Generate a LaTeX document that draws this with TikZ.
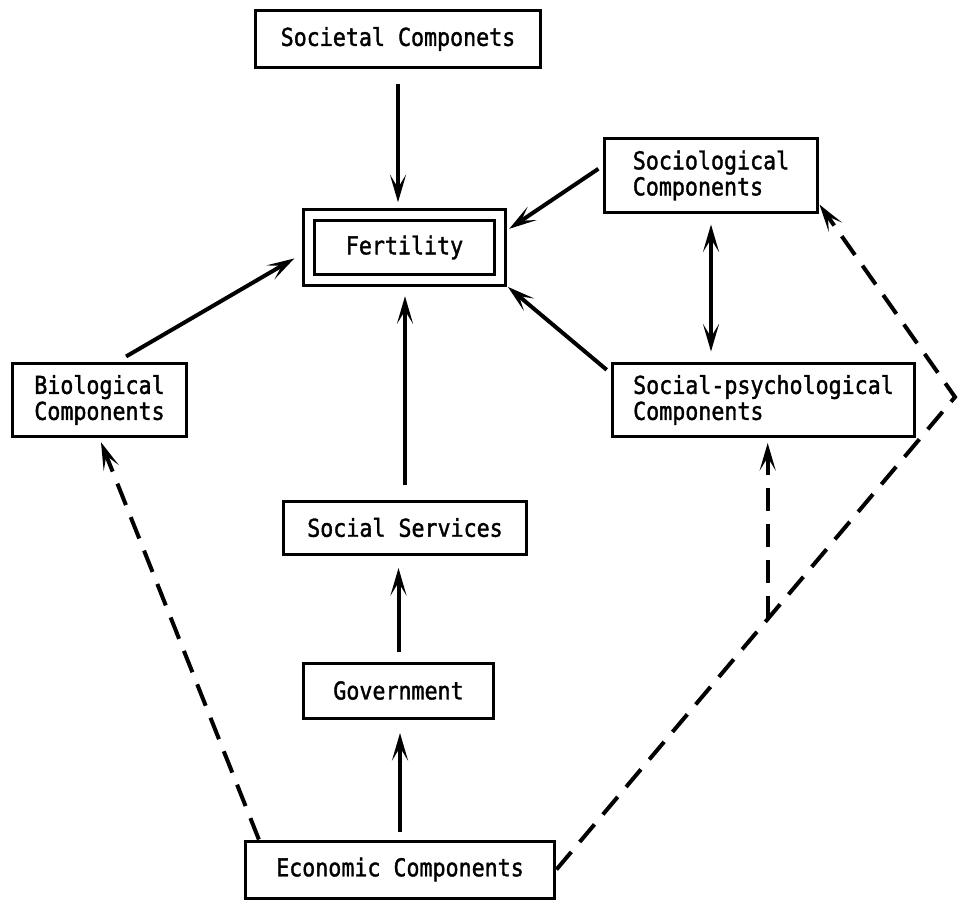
\documentclass[tikz,border=0pt]{standalone}
\usepackage{fontspec}
\setmainfont{DejaVu Sans Mono}[FakeStretch=0.88, FakeBold=1.5]
\usetikzlibrary{arrows.meta,calc}
\tikzset{
	>={Stealth[length=0.55cm,width=0.32cm,inset=0.26cm]},
	box/.style={draw, line width=0.06cm, inner sep=0pt, align=left, font=\fontsize{14pt}{14.8pt}\selectfont},
	arr/.style={line width=0.08cm, ->},
	dblarr/.style={line width=0.08cm, <->},
	dasharr/.style={arr, dash pattern=on 0.46cm off 0.26cm}
}

\begin{document}
\begin{tikzpicture}[x=0.02cm, y=-0.02cm]
				\useasboundingbox (0,0) rectangle (958,900);
				
				\node[box, minimum width=5.72cm, minimum height=1.16cm] (soc) at (398,39) {Societal Componets};
				\node[box, minimum width=3.83cm, minimum height=1.31cm, double, double distance=0.16cm] (fert) at (404.5,247.5) {Fertility};
				\node[box, minimum width=4.28cm, minimum height=1.5cm] (socio) at (711,175.5) {Sociological\\Components};
				\node[box, minimum width=6.06cm, minimum height=1.48cm] (psych) at (763.5,400) {Social-psychological\\Components};
				\node[box, minimum width=3.5cm, minimum height=1.48cm] (bio) at (99.5,400) {Biological\\Components};
				\node[box, minimum width=4.88cm, minimum height=1.06cm] (serv) at (405,527.5) {Social Services};
				\node[box, minimum width=3.82cm, minimum height=1.1cm] (gov) at (398.5,690.5) {Government};
				\node[box, minimum width=6.2cm, minimum height=1.14cm] (econ) at (400,869.5) {Economic Components};
				
				\coordinate (bend) at (955,397);
				\coordinate (split) at ($(econ.east)!0.53!(bend)$);
				
				\draw[arr, shorten <=0.29cm, shorten >=0.22cm] (soc.south) -- (soc.south |- fert.north);
				\draw[arr, shorten <=0.29cm, shorten >=0.29cm] (serv.north) -- (serv.north |- fert.south);
				\draw[arr, shorten <=0.19cm, shorten >=0.25cm] (gov.north) -- (gov.north |- serv.south);
				\draw[arr, shorten <=0.15cm, shorten >=0.27cm] (econ.north) -- (econ.north |- gov.south);
				\draw[arr, shorten <=0.2cm, shorten >=0.3cm] (bio.65) -- (fert.182);
				\draw[arr, shorten <=0.1cm, shorten >=0.18cm] (socio.175) -- (fert.8);
				\draw[arr, shorten <=0.1cm, shorten >=0.16cm] (psych.170) -- (fert.south east);
				\draw[dblarr, shorten <=0.2cm, shorten >=0.2cm] (socio.south) -- (socio.south |- psych.north);
				
				\draw[dasharr, shorten >=0.08cm] (econ.168) -- (bio.south);
				\draw[dasharr] (econ.east) -- (bend) -- (socio.-15);
				\draw[dasharr, shorten >=0.09cm] (split) -- (split |- psych.south);
			\end{tikzpicture}
\end{document}
